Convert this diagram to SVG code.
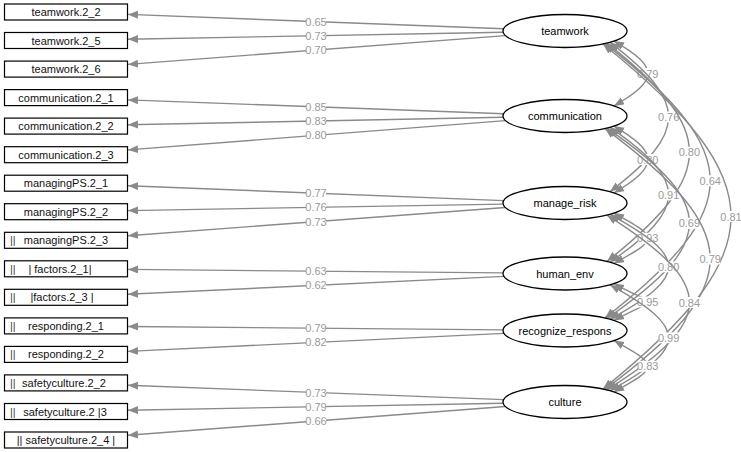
<svg xmlns="http://www.w3.org/2000/svg" width="741" height="452" viewBox="0 0 741 452">
<style>
.box{fill:#fff;stroke:#000;stroke-width:1.2}
.ell{fill:#fff;stroke:#000;stroke-width:1.3}
.bt{font-family:"Liberation Sans",Arial,sans-serif;font-size:11px;fill:#111;text-anchor:middle;dominant-baseline:central}
.gl{font-family:"Liberation Sans",Arial,sans-serif;font-size:11px;fill:#444;dominant-baseline:central}
.nt{font-family:"Liberation Sans",Arial,sans-serif;font-size:11px;fill:#000;text-anchor:middle;dominant-baseline:central}
.e{fill:none;stroke:#8a8a8a;stroke-width:1.4}
.ld{marker-end:url(#ah)}
.cv{marker-start:url(#ah);marker-end:url(#ah)}
.lb{fill:#fff}
.lt{font-family:"Liberation Sans",Arial,sans-serif;font-size:11px;fill:#9a9a9a;text-anchor:middle;dominant-baseline:central}
</style>
<defs>
<marker id="ah" markerUnits="userSpaceOnUse" markerWidth="12" markerHeight="10" refX="10" refY="4" orient="auto-start-reverse">
<path d="M0,0 L10,4 L0,8 z" fill="#8a8a8a"/>
</marker>
</defs>
<g id="connectors">
<path class="e ld" d="M503.6,28.7 L128,14.4"/>
<path class="e ld" d="M503.1,32.2 L128,39.3"/>
<path class="e ld" d="M505.4,35.6 L128,64.4"/>
<path class="e ld" d="M503.6,113.7 L128,99.9"/>
<path class="e ld" d="M503.1,117.3 L128,124.8"/>
<path class="e ld" d="M505.5,120.6 L128,149.9"/>
<path class="e ld" d="M503.7,200.6 L128,185.7"/>
<path class="e ld" d="M503.1,204.1 L128,210.6"/>
<path class="e ld" d="M505.3,207.5 L128,235.7"/>
<path class="e ld" d="M503,272.9 L128,269.4"/>
<path class="e ld" d="M504,276.4 L128,294.3"/>
<path class="e ld" d="M503,329.9 L128,326.5"/>
<path class="e ld" d="M504,333.4 L128,351.4"/>
<path class="e ld" d="M503.6,399.6 L128,385.3"/>
<path class="e ld" d="M503.1,403.2 L128,410.3"/>
<path class="e ld" d="M505.4,406.5 L128,435.3"/>
<g id="loading-labels">
<rect class="lb" x="306" y="16" width="20" height="11"/><text class="lt" x="316" y="21.5">0.65</text>
<rect class="lb" x="306" y="30.2" width="20" height="11"/><text class="lt" x="316" y="35.7">0.73</text>
<rect class="lb" x="306" y="44.5" width="20" height="11"/><text class="lt" x="316" y="50">0.70</text>
<rect class="lb" x="306" y="101.3" width="20" height="11"/><text class="lt" x="316" y="106.8">0.85</text>
<rect class="lb" x="306" y="115.5" width="20" height="11"/><text class="lt" x="316" y="121">0.83</text>
<rect class="lb" x="306" y="129.8" width="20" height="11"/><text class="lt" x="316" y="135.3">0.80</text>
<rect class="lb" x="306" y="187.6" width="20" height="11"/><text class="lt" x="316" y="193.1">0.77</text>
<rect class="lb" x="306" y="201.8" width="20" height="11"/><text class="lt" x="316" y="207.3">0.76</text>
<rect class="lb" x="306" y="216.1" width="20" height="11"/><text class="lt" x="316" y="221.6">0.73</text>
<rect class="lb" x="306" y="265.7" width="20" height="11"/><text class="lt" x="316" y="271.2">0.63</text>
<rect class="lb" x="306" y="279.9" width="20" height="11"/><text class="lt" x="316" y="285.4">0.62</text>
<rect class="lb" x="306" y="322.7" width="20" height="11"/><text class="lt" x="316" y="328.2">0.79</text>
<rect class="lb" x="306" y="336.9" width="20" height="11"/><text class="lt" x="316" y="342.4">0.82</text>
<rect class="lb" x="306" y="387" width="20" height="11"/><text class="lt" x="316" y="392.5">0.73</text>
<rect class="lb" x="306" y="401.2" width="20" height="11"/><text class="lt" x="316" y="406.7">0.79</text>
<rect class="lb" x="306" y="415.5" width="20" height="11"/><text class="lt" x="316" y="421">0.66</text>
</g>
<g id="covariances">
<path class="e cv" d="M614,41.1 C659.1,67 659.1,80 614,105.9"/>
<rect class="lb" x="638" y="68" width="20" height="11"/><text class="lt" x="647.8" y="73.5">0.79</text>
<path class="e cv" d="M610,42.35 C688.1,102.05 688.1,131.95 610,191.65"/>
<rect class="lb" x="658.6" y="111.5" width="20" height="11"/><text class="lt" x="668.6" y="117">0.76</text>
<path class="e cv" d="M607,43.14 C716.9,130.4 716.9,174.1 607,261.36"/>
<rect class="lb" x="679.4" y="146.8" width="20" height="11"/><text class="lt" x="689.4" y="152.3">0.80</text>
<path class="e cv" d="M605,43.6 C745.3,153.3 745.3,208.2 605,317.9"/>
<rect class="lb" x="700.2" y="175.3" width="20" height="11"/><text class="lt" x="710.2" y="180.8">0.64</text>
<path class="e cv" d="M603,44.04 C773.7,182 773.7,251 603,388.96"/>
<rect class="lb" x="721" y="211" width="20" height="11"/><text class="lt" x="731" y="216.5">0.81</text>
<path class="e cv" d="M614,126.1 C659.1,152.8 659.1,166.2 614,192.9"/>
<rect class="lb" x="638" y="154" width="20" height="11"/><text class="lt" x="647.8" y="159.5">0.80</text>
<path class="e cv" d="M610,127.35 C688.1,181.25 688.1,208.25 610,262.15"/>
<rect class="lb" x="658.6" y="189.3" width="20" height="11"/><text class="lt" x="668.6" y="194.8">0.91</text>
<path class="e cv" d="M607,128.14 C716.9,204.2 716.9,242.3 607,318.36"/>
<rect class="lb" x="679.4" y="217.8" width="20" height="11"/><text class="lt" x="689.4" y="223.3">0.69</text>
<path class="e cv" d="M605,128.6 C745.3,232.9 745.3,285.1 605,389.4"/>
<rect class="lb" x="700.2" y="253.5" width="20" height="11"/><text class="lt" x="710.2" y="259">0.79</text>
<path class="e cv" d="M614,213.1 C659.1,237.9 659.1,238.6 614,263.4"/>
<rect class="lb" x="638" y="232.8" width="20" height="11"/><text class="lt" x="647.8" y="238.3">0.93</text>
<path class="e cv" d="M610,214.35 C688.1,257.35 688.1,276.15 610,319.15"/>
<rect class="lb" x="658.6" y="261.3" width="20" height="11"/><text class="lt" x="668.6" y="266.8">0.80</text>
<path class="e cv" d="M607,215.14 C716.9,285 716.9,320 607,389.86"/>
<rect class="lb" x="679.4" y="297" width="20" height="11"/><text class="lt" x="689.4" y="302.5">0.84</text>
<path class="e cv" d="M614,283.6 C659.1,308.4 659.1,295.6 614,320.4"/>
<rect class="lb" x="638" y="296.5" width="20" height="11"/><text class="lt" x="647.8" y="302">0.95</text>
<path class="e cv" d="M610,284.85 C688.1,327.85 688.1,347.65 610,390.65"/>
<rect class="lb" x="658.6" y="332.3" width="20" height="11"/><text class="lt" x="668.6" y="337.8">0.99</text>
<path class="e cv" d="M614,340.6 C659.1,365.4 659.1,367.1 614,391.9"/>
<rect class="lb" x="638" y="360.8" width="20" height="11"/><text class="lt" x="647.8" y="366.3">0.83</text>
</g>
</g>
<g id="teamwork.2_2"><rect class="box" x="4.5" y="4" width="123" height="16"/><text class="bt" x="66" y="12">teamwork.2_2</text></g>
<g id="teamwork.2_5"><rect class="box" x="4.5" y="32.5" width="123" height="16"/><text class="bt" x="66" y="40.5">teamwork.2_5</text></g>
<g id="teamwork.2_6"><rect class="box" x="4.5" y="61.1" width="123" height="16"/><text class="bt" x="66" y="69.1">teamwork.2_6</text></g>
<g id="communication.2_1"><rect class="box" x="4.5" y="89.6" width="123" height="16"/><text class="bt" x="66" y="97.6">communication.2_1</text></g>
<g id="communication.2_2"><rect class="box" x="4.5" y="118.1" width="123" height="16"/><text class="bt" x="66" y="126.1">communication.2_2</text></g>
<g id="communication.2_3"><rect class="box" x="4.5" y="146.7" width="123" height="16"/><text class="bt" x="66" y="154.7">communication.2_3</text></g>
<g id="managingPS.2_1"><rect class="box" x="4.5" y="175.2" width="123" height="16"/><text class="bt" x="66" y="183.2">managingPS.2_1</text></g>
<g id="managingPS.2_2"><rect class="box" x="4.5" y="203.7" width="123" height="16"/><text class="bt" x="66" y="211.7">managingPS.2_2</text></g>
<g id="managingPS.2_3"><rect class="box" x="4.5" y="232.3" width="123" height="16"/><text class="gl" x="10" y="240.3">||</text><text class="bt" x="66" y="240.3">managingPS.2_3</text></g>
<g id="factors.2_1"><rect class="box" x="4.5" y="260.8" width="123" height="16"/><text class="gl" x="10" y="268.8">||</text><text class="bt" x="60" y="268.8">| factors.2_1|</text></g>
<g id="factors.2_3"><rect class="box" x="4.5" y="289.3" width="123" height="16"/><text class="gl" x="10" y="297.3">||</text><text class="bt" x="62" y="297.3">|factors.2_3 |</text></g>
<g id="responding.2_1"><rect class="box" x="4.5" y="317.9" width="123" height="16"/><text class="gl" x="10" y="325.9">||</text><text class="bt" x="66" y="325.9">responding.2_1</text></g>
<g id="responding.2_2"><rect class="box" x="4.5" y="346.4" width="123" height="16"/><text class="gl" x="10" y="354.4">||</text><text class="bt" x="66" y="354.4">responding.2_2</text></g>
<g id="safetyculture.2_2"><rect class="box" x="4.5" y="374.9" width="123" height="16"/><text class="gl" x="10" y="382.9">||</text><text class="bt" x="64" y="382.9">safetyculture.2_2</text></g>
<g id="safetyculture.2_3"><rect class="box" x="4.5" y="403.5" width="123" height="16"/><text class="gl" x="10" y="411.5">||</text><text class="bt" x="65" y="411.5">safetyculture.2 |3</text></g>
<g id="safetyculture.2_4"><rect class="box" x="4.5" y="432" width="123" height="16"/><text class="bt" x="66" y="440">|| safetyculture.2_4 |</text></g>
<g id="teamwork"><ellipse class="ell" cx="565" cy="31" rx="62" ry="16.5"/><text class="nt" x="565" y="31">teamwork</text></g>
<g id="communication"><ellipse class="ell" cx="565" cy="116" rx="62" ry="16.5"/><text class="nt" x="565" y="116">communication</text></g>
<g id="manage_risk"><ellipse class="ell" cx="565" cy="203" rx="62" ry="16.5"/><text class="nt" x="565" y="203">manage_risk</text></g>
<g id="human_env"><ellipse class="ell" cx="565" cy="273.5" rx="62" ry="16.5"/><text class="nt" x="565" y="273.5">human_env</text></g>
<g id="recognize_respons"><ellipse class="ell" cx="565" cy="330.5" rx="62" ry="16.5"/><text class="nt" x="565" y="330.5">recognize_respons</text></g>
<g id="culture"><ellipse class="ell" cx="565" cy="402" rx="62" ry="16.5"/><text class="nt" x="565" y="402">culture</text></g>
</svg>
